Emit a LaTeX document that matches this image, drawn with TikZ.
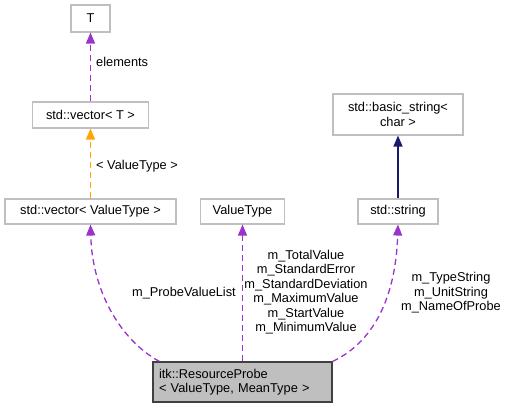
\documentclass[tikz,border=0pt]{standalone}
\usepackage{fontspec}
\setmainfont{Liberation Sans}
\usetikzlibrary{arrows.meta,calc}
\definecolor{edgepurple}{HTML}{9A32CD}
\definecolor{edgeorange}{HTML}{FFA500}
\definecolor{edgenavy}{HTML}{191970}
\definecolor{boxgray}{HTML}{BFBFBF}
\definecolor{boxdark}{HTML}{404040}
\tikzset{
  cls/.style={draw=boxgray, line width=1.1pt, fill=white, inner sep=0pt, align=center,
    font=\fontsize{12.8}{14.5}\selectfont},
  lbl/.style={inner sep=0pt, align=center, font=\fontsize{12.8}{14.5}\selectfont},
  tip/.style={-{Triangle[length=11pt,width=9pt]}},
  usage/.style={tip, draw=edgepurple, line width=1.3pt, dash pattern=on 6pt off 4pt},
  tmpl/.style={tip, draw=edgeorange, line width=1.3pt, dash pattern=on 6pt off 4pt},
  inherit/.style={tip, draw=edgenavy, line width=1.3pt},
}
\begin{document}
\begin{tikzpicture}[x=1pt,y=-1pt]
\useasboundingbox (0,0) rectangle (507,408);
\node[cls, minimum width=39pt, minimum height=27pt] (T) at (90.5,18.5) {T};
\node[cls, minimum width=116pt, minimum height=26pt] (vecT) at (90.5,115) {std::vector< T >};
\node[cls, minimum width=171pt, minimum height=25pt] (vecV) at (90.5,211.5) {std::vector< ValueType >};
\node[cls, minimum width=84pt, minimum height=25pt] (VT) at (242.5,211.5) {ValueType};
\node[cls, minimum width=80pt, minimum height=25pt] (str) at (398,211.5) {std::string};
\node[cls, minimum width=130pt, minimum height=41pt] (bstr) at (398,114.5) {std::basic\_string<\\char >};
\node[cls, draw=boxdark, fill=boxgray, minimum width=179pt, minimum height=40pt, align=left, text width=167pt]
  (rp) at (242.5,382) {itk::ResourceProbe\\< ValueType, MeanType >};

\draw[usage] (vecT.north) -- (T.south);
\node[lbl, anchor=west] (lelem) at (96,62) {elements};
\draw[tmpl] (vecV.north) -- (vecT.south);
\node[lbl, anchor=west] (lvt) at (96,166) {< ValueType >};
\draw[inherit] (str.north) -- (bstr.south);

\draw[usage] ([xshift=7pt]rp.north west) .. controls (120,340) and (92,290) .. (vecV.south);
\node[lbl, anchor=east] (lpvl) at (236,293) {m\_ProbeValueList};
\draw[usage] (rp.north) -- (VT.south);
\node[lbl] (lvals) at (306,292) {m\_TotalValue\\m\_StandardError\\m\_StandardDeviation\\m\_MaximumValue\\m\_StartValue\\m\_MinimumValue};
\draw[usage] (rp.north east) .. controls (378,340) and (396,290) .. (str.south);
\node[lbl] (lstr) at (451,293) {m\_TypeString\\m\_UnitString\\m\_NameOfProbe};
\end{tikzpicture}
\end{document}
